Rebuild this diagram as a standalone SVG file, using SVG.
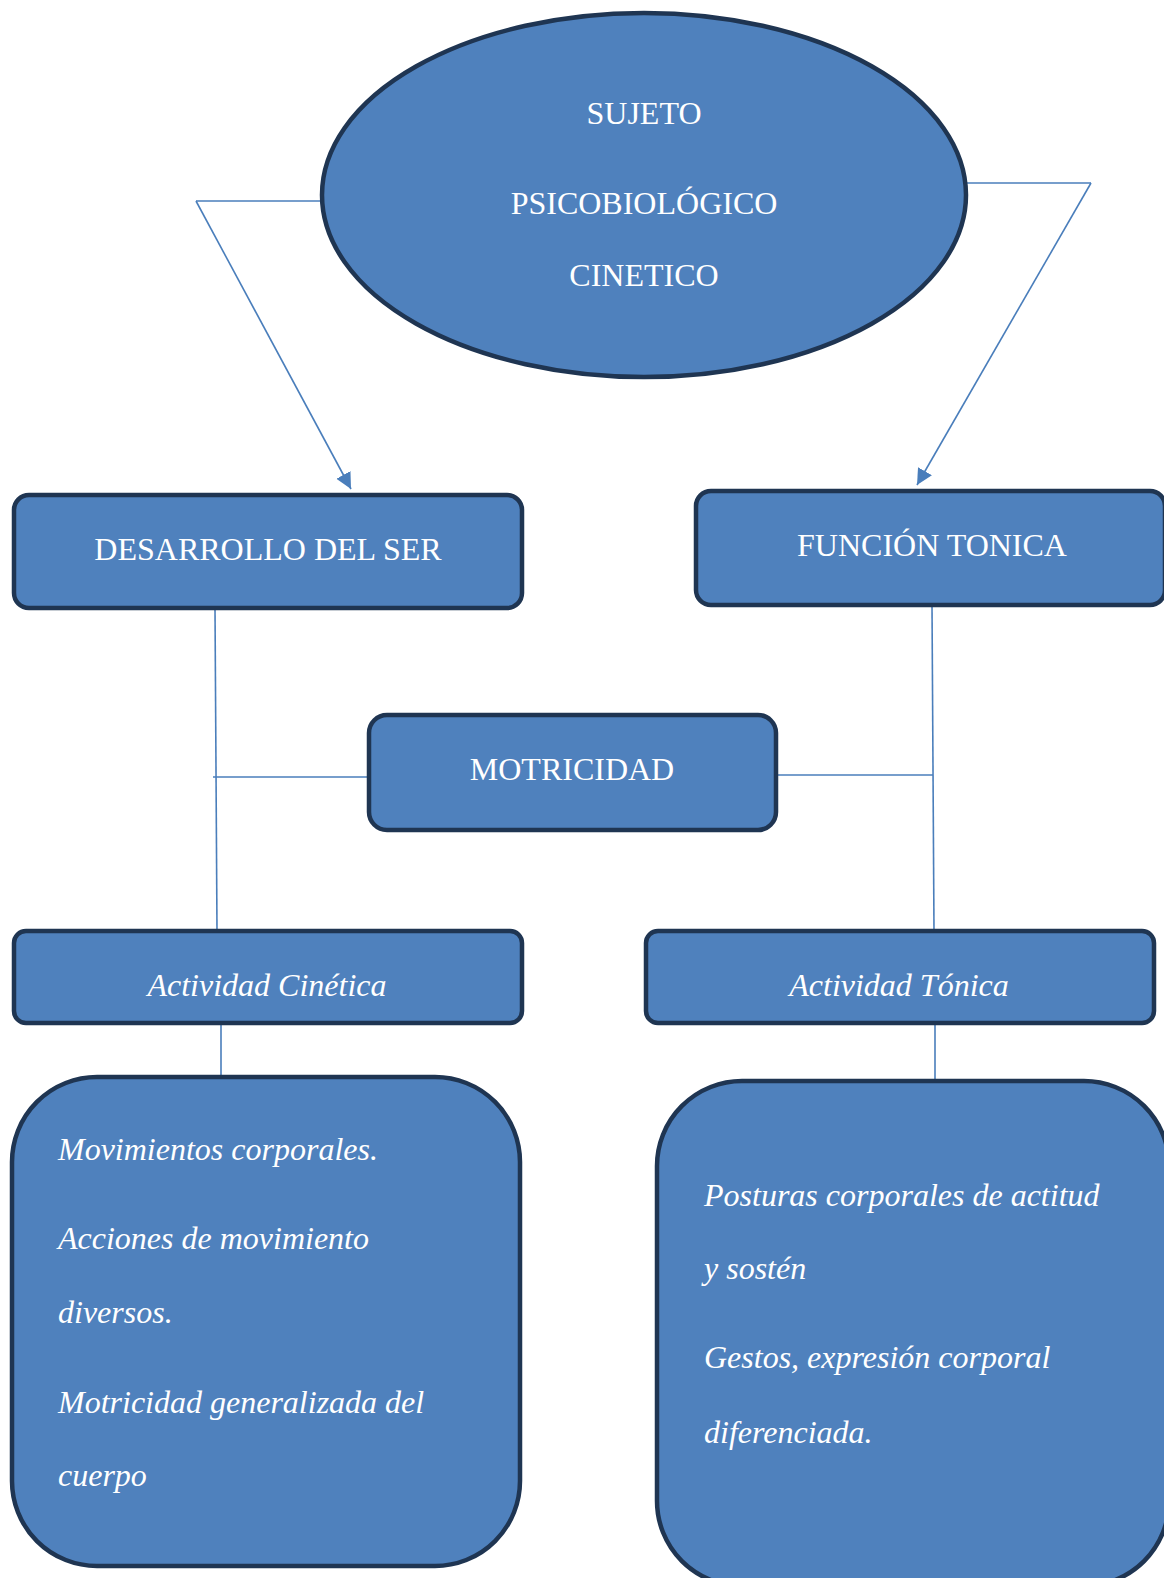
<svg xmlns="http://www.w3.org/2000/svg" width="1164" height="1578" viewBox="0 0 1164 1578">
<defs>
<style>
.n{fill:#4F81BD;stroke:#1F3552;stroke-width:4.5}
.c{fill:none;stroke:#4A7EBB;stroke-width:1.6}
.t{font-family:"Liberation Serif","Times New Roman",serif;font-size:32px;fill:#FFFFFF}
.m{text-anchor:middle}
.i{font-style:italic}
</style>
<marker id="ah" markerUnits="userSpaceOnUse" markerWidth="20" markerHeight="20" refX="16" refY="8" orient="auto">
<path d="M0,0 L16,8 L0,16 Z" fill="#4A7EBB"/>
</marker>
</defs>
<g id="connectors">
<line class="c" x1="196" y1="201" x2="322" y2="201"/>
<line class="c" x1="196" y1="201" x2="351" y2="489" marker-end="url(#ah)"/>
<line class="c" x1="966" y1="183" x2="1091" y2="183"/>
<line class="c" x1="1091" y1="183" x2="917" y2="485" marker-end="url(#ah)"/>
<line class="c" x1="215" y1="608" x2="217" y2="930"/>
<line class="c" x1="213" y1="777" x2="369" y2="777"/>
<line class="c" x1="932" y1="605" x2="934" y2="931"/>
<line class="c" x1="776" y1="775" x2="933" y2="775"/>
<line class="c" x1="221" y1="1023" x2="221" y2="1077"/>
<line class="c" x1="935" y1="1023" x2="935" y2="1081"/>
</g>
<g id="sujeto">
<ellipse class="n" cx="644" cy="195" rx="322" ry="182"/>
<text class="t m" x="644" y="124">SUJETO</text>
<text class="t m" x="644" y="214">PSICOBIOLÓGICO</text>
<text class="t m" x="644" y="286">CINETICO</text>
</g>
<g id="desarrollo">
<rect class="n" x="14" y="495" width="508" height="113" rx="15"/>
<text class="t m" x="268" y="560">DESARROLLO DEL SER</text>
</g>
<g id="funcion">
<rect class="n" x="696" y="491" width="469" height="114" rx="15"/>
<text class="t m" x="932" y="556">FUNCIÓN TONICA</text>
</g>
<g id="motricidad">
<rect class="n" x="369" y="715" width="407" height="115" rx="18"/>
<text class="t m" x="572" y="780">MOTRICIDAD</text>
</g>
<g id="cinetica">
<rect class="n" x="14" y="931" width="508" height="92" rx="12"/>
<text class="t m i" x="267" y="996">Actividad Cinética</text>
</g>
<g id="tonica">
<rect class="n" x="646" y="931" width="508" height="92" rx="12"/>
<text class="t m i" x="899" y="996">Actividad Tónica</text>
</g>
<g id="cinetica-detalle">
<rect class="n" x="12" y="1077" width="508" height="489" rx="85"/>
<text class="t i" x="58" y="1160">Movimientos corporales.</text>
<text class="t i" x="58" y="1249">Acciones de movimiento</text>
<text class="t i" x="58" y="1323">diversos.</text>
<text class="t i" x="58" y="1413">Motricidad generalizada del</text>
<text class="t i" x="58" y="1486">cuerpo</text>
</g>
<g id="tonica-detalle">
<rect class="n" x="657" y="1081" width="512" height="505" rx="85"/>
<text class="t i" x="704" y="1206">Posturas corporales de actitud</text>
<text class="t i" x="704" y="1279">y sostén</text>
<text class="t i" x="704" y="1368">Gestos, expresión corporal</text>
<text class="t i" x="704" y="1443">diferenciada.</text>
</g>
</svg>
